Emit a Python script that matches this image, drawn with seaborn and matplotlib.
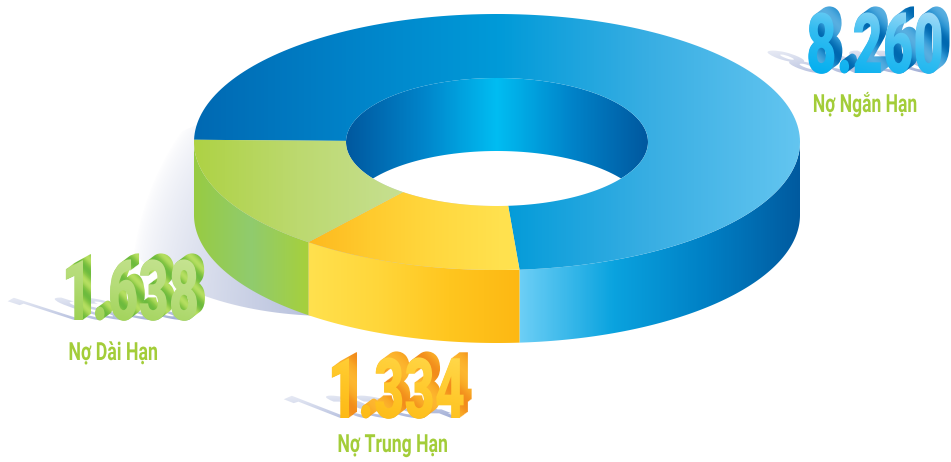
import numpy as np
import matplotlib
matplotlib.use("Agg")
import matplotlib.pyplot as plt
import seaborn as sns
from matplotlib.backends.backend_agg import RendererAgg
from matplotlib.colors import to_rgba
from matplotlib.path import Path
from matplotlib.patheffects import AbstractPathEffect
from matplotlib.transforms import Affine2D, IdentityTransform

# Debt structure, billions of VND
categories = ["Nợ Ngắn Hạn", "Nợ Trung Hạn", "Nợ Dài Hạn"]
values = [8260, 1334, 1638]
value_labels = ["8.260", "1.334", "1.638"]

W, H = 951, 462
CX, CY = 497, 142          # centre of the top ellipse
RX, RY = 303, 128          # outer radii
IX, IY = 151, 64           # hole radii
DEPTH = 73                 # wall height
START = 181                # angle of the first slice, running clockwise on screen

sns.set_theme(style="white")
FONT = "Roboto"

ramp = lambda *c: sns.blend_palette(list(c), n_colors=256, as_cmap=True)

top_ramps = [
    ramp("#0069b3", "#0082c8", "#009ad8", "#38aee3", "#63c5f0"),
    ramp("#fdb81e", "#ffcb2e", "#ffd83f", "#ffe14e"),
    ramp("#aed245", "#bcd96f", "#c6df90"),
]
top_spans = [(195, 800), (306, 500), (195, 400)]
side_ramps = [
    ramp("#6dcff6", "#0aa3df", "#0080c5", "#005a9f"),
    ramp("#ffe14e", "#ffd63a", "#ffc61f", "#fdb813"),
    ramp("#98cb42", "#90cb6e", "#a6d03c"),
]
inner_ramp = ramp("#00589f", "#0083c9", "#00bdf2", "#0083c9", "#00589f")

fig = plt.figure(figsize=(W / 100, H / 100), dpi=100)
ax = fig.add_axes([0, 0, 1, 1])
ax.set_xlim(0, W)
ax.set_ylim(H, 0)
ax.axis("off")
yy, xx = np.mgrid[0:H, 0:W] + 0.5


def coverage(path, w=W, h=H):
    """Antialiased coverage (0..1) of a path given in display coordinates."""
    r = RendererAgg(w, h, 72)
    gc = r.new_gc()
    gc.set_linewidth(0)
    r.draw_path(gc, path, IdentityTransform(), (0, 0, 0, 1))
    gc.restore()
    return np.asarray(r.buffer_rgba())[..., 3] / 255.0


def data_mask(verts):
    return coverage(Path(np.asarray(verts)).transformed(ax.transData))


def paint(rgb, mask, z):
    rgba = np.dstack([rgb[..., :3], mask])
    ax.imshow(rgba, extent=(0, W, H, 0), interpolation="nearest", aspect="auto", zorder=z)
    ax.set_xlim(0, W)
    ax.set_ylim(H, 0)


def horizontal(cmap, x0, x1):
    return cmap(np.clip((xx - x0) / (x1 - x0), 0, 1))


def arc(t0, t1, rx, ry, dy=0):
    t = np.radians(np.linspace(t0, t1, 180))
    return np.column_stack([CX + rx * np.cos(t), CY + dy + ry * np.sin(t)])


shares = np.array(values) / np.sum(values) * 360
bounds = START + np.concatenate([[0], np.cumsum(shares)])

hole = data_mask(arc(0, 360, IX, IY))

# Soft cast shadow on the left of the ring
shadow_shape = arc(0, 360, 215, 107) + np.array([330 - CX, 209 - CY])
dist = np.hypot((xx - 345) / 215, (yy - 300) / 260)
shadow_alpha = np.clip(1.0 - dist, 0, 1) ** 0.7 * 0.95
shadow_rgb = np.ones((H, W, 4)) * np.array(to_rgba("#aab5d6"))
paint(shadow_rgb, data_mask(shadow_shape) * shadow_alpha * (1 - hole), 1)

# Inner wall seen through the hole
hole_floor = data_mask(arc(0, 360, IX, IY, DEPTH))
paint(horizontal(inner_ramp, CX - IX, CX + IX), hole * (1 - hole_floor), 2)

# Outer walls (front half only) and top faces, one slice at a time
for i in range(len(values)):
    t0, t1 = bounds[i], bounds[i + 1]
    a, b = max(t0, 360), min(t1, 540)
    wall = np.vstack([arc(a, b, RX, RY), arc(b, a, RX, RY, DEPTH)])
    paint(horizontal(side_ramps[i], wall[:, 0].min(), wall[:, 0].max()), data_mask(wall), 3)

    face = np.vstack([arc(t0, t1, RX, RY), arc(t1, t0, IX, IY)])
    paint(horizontal(top_ramps[i], *top_spans[i]), data_mask(face), 4)


class Squeezed(AbstractPathEffect):
    """Draw text narrower than the font about its aligned end, keeping real outlines."""

    def __init__(self, sx, ha):
        super().__init__()
        self.sx, self.ha = sx, ha

    def squeeze(self, tpath, affine):
        raw = tpath.transformed(affine)
        box = raw.get_extents()
        ox = box.x1 if self.ha == "right" else box.x0
        oy = affine.transform((0, 0))[1]
        squeeze = Affine2D().translate(-ox, -oy).scale(self.sx, 1).translate(ox, oy)
        return raw.transformed(squeeze), ox, oy

    def draw_path(self, renderer, gc, tpath, affine, rgbFace=None):
        path, _, _ = self.squeeze(tpath, affine)
        renderer.draw_path(gc, path, IdentityTransform(), rgbFace)


class Block3D(Squeezed):
    """Extruded numeral: flattened ground shadow, striped sides, gradient face."""

    def __init__(self, sx, ha, face, side, period, lean, depth=(8, 6)):
        super().__init__(sx, ha)
        self.face, self.side, self.period = face, side, period
        self.lean, self.depth = lean, depth

    def draw_path(self, renderer, gc, tpath, affine, rgbFace=None):
        w, h = int(renderer.width), int(renderer.height)
        py, px = np.mgrid[0:h, 0:w] + 0.5
        up = h - py
        path, ox, oy = self.squeeze(tpath, affine)
        box = path.get_extents()

        def put(rgb, mask):
            rgba = rgb.copy()
            rgba[..., 3] = mask
            renderer.draw_image(gc, 0, 0, (rgba[::-1] * 255).astype(np.uint8))

        # Ground shadow, leaning away from the numeral's left edge
        shear = (Affine2D().translate(-box.x0, -oy)
                 + Affine2D.from_values(1, 0, self.lean, 0.37, 0, 0)
                 + Affine2D().translate(box.x0, oy))
        ghost = path.transformed(shear)
        sb = ghost.get_extents()
        fade = np.clip((px - sb.x0) / max(sb.width, 1), 0, 1)
        lift = np.clip((up - oy) / max(sb.height, 1), 0, 1)
        tint = np.ones((h, w, 4)) * np.array(to_rgba("#9eabd4"))
        put(tint, coverage(ghost, w, h) * (0.4 + 0.6 * (1 - lift)) * (0.6 + 0.4 * fade))

        # Sides built from shifted copies of the outline
        dx, dy = self.depth
        mask = np.zeros((h, w))
        steps = int(max(dx, dy) * 2)
        for k in range(1, steps + 1):
            shifted = path.transformed(Affine2D().translate(dx * k / steps, dy * k / steps))
            mask = np.maximum(mask, coverage(shifted, w, h))
        stripes = 0.5 + 0.5 * np.sin(2 * np.pi * (px + up) / self.period)
        put(self.side(stripes), mask)

        # Front face
        vert = np.clip((up - box.y0) / box.height, 0, 1)
        horiz = np.clip((px - box.x0) / box.width, 0, 1)
        put(self.face(0.65 * vert + 0.35 * horiz), coverage(path, w, h))


PX = 72 / 100  # points per pixel at this figure resolution
numeral_styles = [
    (ramp("#00aeef", "#35bdf1", "#a5dcf8"), ramp("#0068b0", "#2a93d2", "#57aee0")),
    (ramp("#fdb813", "#ffc82a", "#ffd84a"), ramp("#f28c1c", "#f9a825", "#fdb62f")),
    (ramp("#9bd050", "#b5dc78", "#c6e392"), ramp("#6dbb3e", "#8cc946", "#b4de60")),
]
aligns = ["right", "left", "left"]
numeral_at = [(945, 73), (325, 418), (59, 320)]
numeral_period = [60, 60, 26]
numeral_lean = [-0.8, -0.95, -1.15]
numeral_sx = [0.625, 0.625, 0.625]
label_at = [(918, 112), (337, 452), (68, 360)]
label_sx = [0.70, 0.705, 0.71]

for i in range(3):
    x, y = numeral_at[i]
    face, side = numeral_styles[i]
    ax.text(x, y, value_labels[i], family=FONT, weight="black", fontsize=84 * PX,
            ha=aligns[i], va="baseline", color="#888888", zorder=6,
            path_effects=[Block3D(numeral_sx[i], aligns[i], face, side,
                                  numeral_period[i], numeral_lean[i])])
    x, y = label_at[i]
    ax.text(x, y, categories[i], family=FONT, weight="bold", fontsize=25 * PX,
            ha=aligns[i], va="baseline", color="#a3cd39", zorder=6,
            path_effects=[Squeezed(label_sx[i], aligns[i])])

fig.savefig("out.png", dpi=100, facecolor="white")
